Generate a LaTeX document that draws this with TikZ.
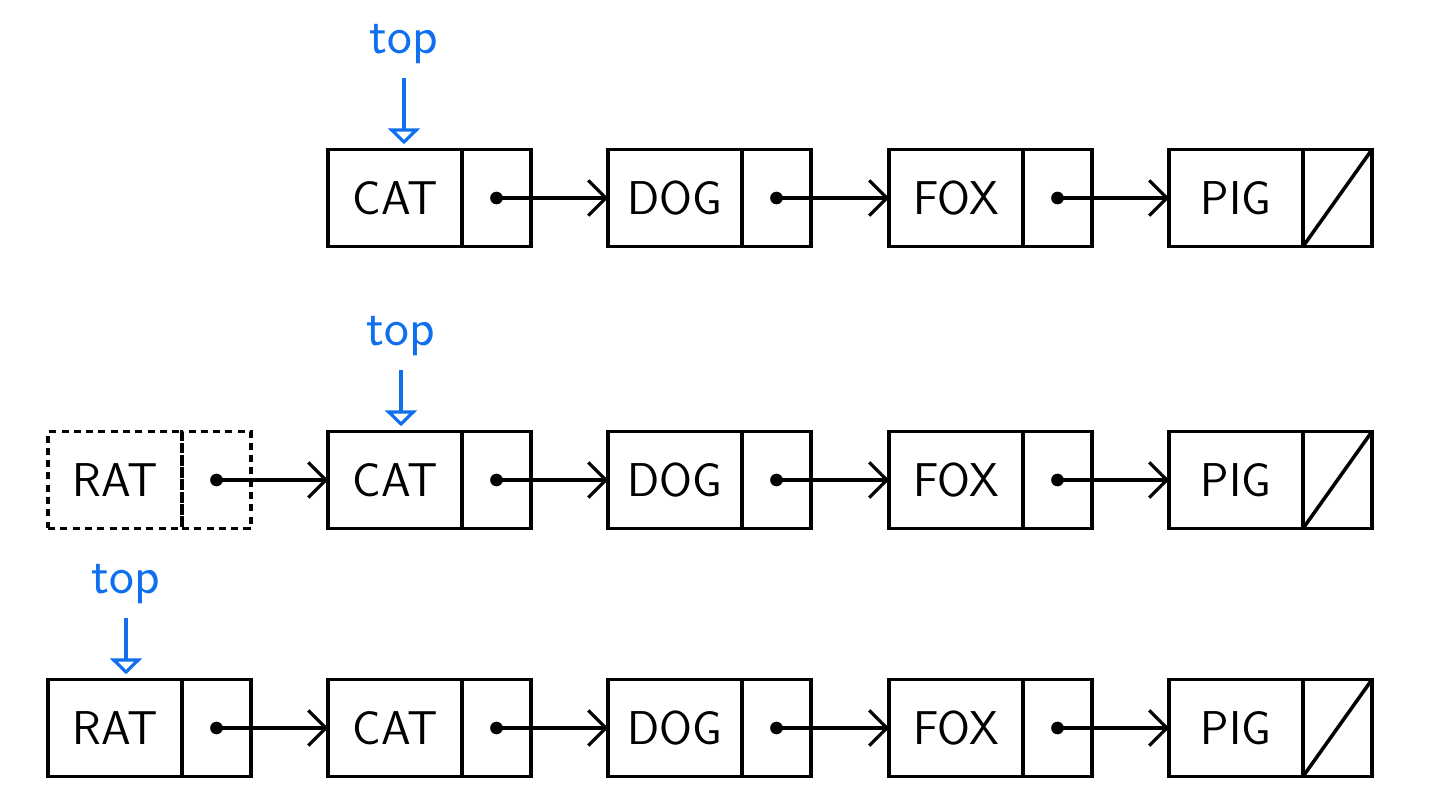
\documentclass[tikz,border=0pt]{standalone}
\usepackage{tikz}
\usetikzlibrary{arrows.meta,positioning}

\begin{document}
\begin{tikzpicture}[x=0.02cm,y=-0.02cm,
  datafield/.style={draw,line width=2pt,minimum width=2.68cm,minimum height=1.94cm,
    inner sep=0pt,outer sep=0pt,font=\sffamily\fontsize{27}{27}\selectfont},
  linkfield/.style={draw,line width=2pt,minimum width=1.38cm,minimum height=1.94cm,
    inner sep=0pt,outer sep=0pt},
  ghost/.style={dash pattern=on 4pt off 3pt},
  nextlink/.style={line width=1.8pt,-{Straight Barb[length=10pt,width=20pt,line width=1.8pt]}},
  toplink/.style={topBlue,line width=1.8pt,shorten >=3pt,
    -{Triangle[open,length=9pt,width=18pt,line width=1.8pt]}},
  toplabel/.style={topBlue,inner sep=0pt,font=\sffamily\fontsize{30}{30}\selectfont}]
\definecolor{topBlue}{HTML}{0F6FEF}
\useasboundingbox (0,0) rectangle (1436,804);
% the four nodes that every row has
\foreach \row/\y in {1/198,2/480,3/728} {
  \foreach \name/\x in {CAT/395,DOG/675,FOX/956,PIG/1236} {
    \node[datafield] (\name\row) at (\x,\y) {\name};
    \node[linkfield,anchor=west] (\name ptr\row) at (\name\row.east) {};
  }
  \foreach \a/\b in {CAT/DOG,DOG/FOX,FOX/PIG} {
    \fill (\a ptr\row.center) circle (3.6pt);
    \draw[nextlink] (\a ptr\row.center) -- (\b\row.west);
  }
  \draw[line width=2pt] (PIGptr\row.south west) -- (PIGptr\row.north east);
}
% new node, dashed while it is pushed
\node[datafield,ghost] (RAT2) at (115,480) {RAT};
\node[linkfield,ghost,anchor=west] (RATptr2) at (RAT2.east) {};
\node[datafield] (RAT3) at (115,728) {RAT};
\node[linkfield,anchor=west] (RATptr3) at (RAT3.east) {};
\foreach \row in {2,3} {
  \fill (RATptr\row.center) circle (3.6pt);
  \draw[nextlink] (RATptr\row.center) -- (CAT\row.west);
}
% top pointers
\node[toplabel] (top1) at (404,44) {top};
\node[toplabel] (top2) at (401,336) {top};
\node[toplabel] (top3) at (126,584) {top};
\draw[toplink] ([yshift=-8pt]top1.south) -- (top1.south |- CAT1.north);
\draw[toplink] ([yshift=-8pt]top2.south) -- (top2.south |- CAT2.north);
\draw[toplink] ([yshift=-8pt]top3.south) -- (top3.south |- RAT3.north);
\end{tikzpicture}
\end{document}
